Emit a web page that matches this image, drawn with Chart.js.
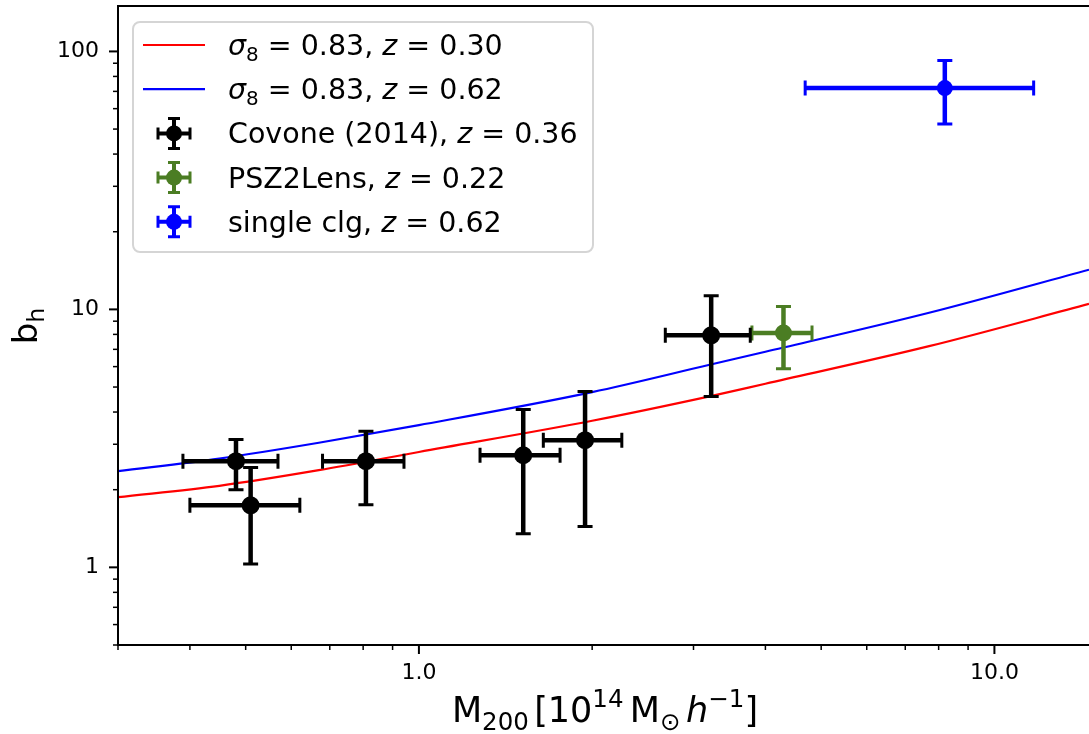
<!DOCTYPE html>
<html>
<head>
<meta charset="utf-8">
<title>Halo bias vs mass</title>
<script src="https://cdn.jsdelivr.net/npm/chart.js@4.4.0/dist/chart.umd.min.js"></script>
<style>
  html, body { margin: 0; padding: 0; background: #fff; overflow: hidden; }
  #wrap { position: relative; width: 1089px; height: 734px; }
</style>
</head>
<body>
<div id="wrap"><canvas id="biasChart" width="1089" height="734"></canvas></div>
<script>
"use strict";

/*----------------------------------------*/
/*  data
/*----------------------------------------*/
// model curves, sigma8 = 0.83
var modelMass = [0.3, 0.45, 0.67, 1.0, 2.0, 3.2, 4.0, 7.7, 14.6];
var biasZ030  = [1.87, 2.07, 2.38, 2.80, 3.70, 4.60, 5.15, 7.20, 10.5];
var biasZ062  = [2.36, 2.64, 3.04, 3.56, 4.78, 6.10, 6.85, 9.70, 14.25];

// Covone (2014), z = 0.36
var covMass   = [0.481, 0.51, 0.809, 1.518, 1.944, 3.22];
var covMassLo = [0.389, 0.40, 0.68, 1.277, 1.645, 2.68];
var covMassHi = [0.569, 0.621, 0.942, 1.759, 2.252, 3.765];
var covBias   = [2.58, 1.74, 2.58, 2.72, 3.11, 7.93];
var covBiasLo = [2.00, 1.03, 1.75, 1.35, 1.44, 4.60];
var covBiasHi = [3.13, 2.44, 3.37, 4.09, 4.80, 11.3];

// PSZ2Lens, z = 0.22
var pszMass = [4.30], pszMassLo = [3.79], pszMassHi = [4.82];
var pszBias = [8.10], pszBiasLo = [5.89], pszBiasHi = [10.27];

// single clg, z = 0.62
var clgMass = [8.20], clgMassLo = [4.69], clgMassHi = [11.7];
var clgBias = [72.1], clgBiasLo = [52.3], clgBiasHi = [92.3];

// axis ranges and labelled ticks
var xRange = [0.3, 14.6];
var yRange = [0.5, 150];
var xTickLabels = { 1: '1.0', 10: '10.0' };
var yTickLabels = { 1: '1', 10: '10', 100: '100' };

var FONT = '"DejaVu Sans", "Liberation Sans", sans-serif';
var RED = '#ff0000', BLUE = '#0000ff', BLACK = '#000000', GREEN = '#4b7d23';

function pts(xs, ys) {
	return xs.map(function (v, i) { return { x: v, y: ys[i] }; });
}

/*----------------------------------------*/
/*  rich text (sub / sup / italic)
/*----------------------------------------*/
function partFont(p, size) {
	var s = (p.sub || p.sup) ? size * 0.7 : size;
	return (p.it ? 'italic ' : '') + s.toFixed(1) + 'px ' + FONT;
}
function richWidth(ctx, parts, size) {
	var w = 0;
	parts.forEach(function (p) {
		if (p.sp) { w += p.sp * size; return; }
		ctx.font = partFont(p, size);
		w += ctx.measureText(p.t).width;
	});
	return w;
}
function drawRich(ctx, parts, x, y, size, align) {
	var w = richWidth(ctx, parts, size);
	var cx = align === 'center' ? x - w / 2 : x;
	ctx.textBaseline = 'alphabetic';
	ctx.textAlign = 'left';
	parts.forEach(function (p) {
		if (p.sp) { cx += p.sp * size; return; }
		ctx.font = partFont(p, size);
		var dy = p.sub ? size * 0.22 : (p.sup ? -size * 0.42 : 0);
		ctx.fillText(p.t, cx, y + dy);
		cx += ctx.measureText(p.t).width;
	});
}

/*----------------------------------------*/
/*  error bars, drawn just under each marker set
/*----------------------------------------*/
var errorBarPlugin = {
	id: 'errorBars',
	beforeDatasetDraw: function (chart, args) {
		var ds = chart.data.datasets[args.index];
		if (!ds.err) return;
		var ctx = chart.ctx, xs = chart.scales.x, ys = chart.scales.y;
		var cap = 7.5;
		ctx.save();
		ctx.strokeStyle = ds.backgroundColor;
		ds.data.forEach(function (p, i) {
			var px = xs.getPixelForValue(p.x), py = ys.getPixelForValue(p.y);
			var x0 = xs.getPixelForValue(ds.err.xLo[i]), x1 = xs.getPixelForValue(ds.err.xHi[i]);
			var y0 = ys.getPixelForValue(ds.err.yLo[i]), y1 = ys.getPixelForValue(ds.err.yHi[i]);
			ctx.lineWidth = 4.5;
			ctx.beginPath();
			ctx.moveTo(x0, py); ctx.lineTo(x1, py);
			ctx.moveTo(px, y0); ctx.lineTo(px, y1);
			ctx.stroke();
			ctx.lineWidth = 3;
			ctx.beginPath();
			ctx.moveTo(x0, py - cap); ctx.lineTo(x0, py + cap);
			ctx.moveTo(x1, py - cap); ctx.lineTo(x1, py + cap);
			ctx.moveTo(px - cap, y0); ctx.lineTo(px + cap, y0);
			ctx.moveTo(px - cap, y1); ctx.lineTo(px + cap, y1);
			ctx.stroke();
		});
		ctx.restore();
	}
};

/*----------------------------------------*/
/*  frame, tick marks, axis titles, legend
/*----------------------------------------*/
var legendRows = [
	{ kind: 'line', color: RED,  parts: [{ t: 'σ', it: 1 }, { t: '8', sub: 1 }, { t: ' = 0.83, ' }, { t: 'z', it: 1 }, { t: ' = 0.30' }] },
	{ kind: 'line', color: BLUE, parts: [{ t: 'σ', it: 1 }, { t: '8', sub: 1 }, { t: ' = 0.83, ' }, { t: 'z', it: 1 }, { t: ' = 0.62' }] },
	{ kind: 'err', color: BLACK, parts: [{ t: 'Covone (2014), ' }, { t: 'z', it: 1 }, { t: ' = 0.36' }] },
	{ kind: 'err', color: GREEN, parts: [{ t: 'PSZ2Lens, ' }, { t: 'z', it: 1 }, { t: ' = 0.22' }] },
	{ kind: 'err', color: BLUE,  parts: [{ t: 'single clg, ' }, { t: 'z', it: 1 }, { t: ' = 0.62' }] }
];

function roundRect(ctx, x, y, w, h, r) {
	ctx.beginPath();
	ctx.moveTo(x + r, y);
	ctx.arcTo(x + w, y, x + w, y + h, r);
	ctx.arcTo(x + w, y + h, x, y + h, r);
	ctx.arcTo(x, y + h, x, y, r);
	ctx.arcTo(x, y, x + w, y, r);
	ctx.closePath();
}

var decorPlugin = {
	id: 'decor',
	afterDatasetsDraw: function (chart) {
		var ctx = chart.ctx, a = chart.chartArea;
		var xs = chart.scales.x, ys = chart.scales.y;
		ctx.save();

		// spines
		ctx.strokeStyle = '#000';
		ctx.lineWidth = 2;
		ctx.beginPath();
		ctx.moveTo(a.right + 2, a.top); ctx.lineTo(a.left, a.top);
		ctx.lineTo(a.left, a.bottom); ctx.lineTo(a.right + 2, a.bottom);
		ctx.stroke();

		// log tick marks (major at decades, minor between)
		function logTicks(lo, hi, fn) {
			for (var e = Math.floor(Math.log10(lo)); e <= Math.ceil(Math.log10(hi)); e++) {
				for (var m = 1; m <= 9; m++) {
					var v = m * Math.pow(10, e);
					if (v >= lo * 0.999 && v <= hi * 1.001) fn(v, m === 1);
				}
			}
		}
		logTicks(xRange[0], xRange[1], function (v, major) {
			var px = xs.getPixelForValue(v);
			ctx.lineWidth = major ? 2 : 1.5;
			ctx.beginPath(); ctx.moveTo(px, a.bottom); ctx.lineTo(px, a.bottom + (major ? 9 : 5)); ctx.stroke();
		});
		logTicks(yRange[0], yRange[1], function (v, major) {
			var py = ys.getPixelForValue(v);
			ctx.lineWidth = major ? 2 : 1.5;
			ctx.beginPath(); ctx.moveTo(a.left, py); ctx.lineTo(a.left - (major ? 9 : 5), py); ctx.stroke();
		});

		// axis titles
		ctx.fillStyle = '#000';
		drawRich(ctx, [
			{ t: 'M' }, { t: '200', sub: 1 }, { sp: 0.15 }, { t: '[10' }, { t: '14', sup: 1 }, { sp: 0.18 },
			{ t: 'M' }, { t: '⊙', sub: 1 }, { sp: 0.16 }, { t: 'h', it: 1 }, { t: '−1', sup: 1 }, { t: ']' }
		], 605, 722, 35, 'center');

		ctx.save();
		ctx.translate(37, 326);
		ctx.rotate(-Math.PI / 2);
		drawRich(ctx, [{ t: 'b' }, { t: 'h', sub: 1 }], 0, 0, 34, 'center');
		ctx.restore();

		// legend
		var lx = 133, ly = 22, lw = 460, lh = 230;
		roundRect(ctx, lx, ly, lw, lh, 7);
		ctx.fillStyle = 'rgba(255,255,255,0.85)';
		ctx.fill();
		ctx.strokeStyle = '#d5d5d5';
		ctx.lineWidth = 2;
		ctx.stroke();

		legendRows.forEach(function (row, i) {
			var cy = 45 + i * 44.2;
			ctx.strokeStyle = row.color;
			ctx.fillStyle = row.color;
			if (row.kind === 'line') {
				ctx.lineWidth = 2.2;
				ctx.beginPath(); ctx.moveTo(143, cy); ctx.lineTo(205, cy); ctx.stroke();
			} else {
				var mx = 174;
				ctx.lineWidth = 4;
				ctx.beginPath();
				ctx.moveTo(mx - 16, cy); ctx.lineTo(mx + 16, cy);
				ctx.moveTo(mx, cy - 15); ctx.lineTo(mx, cy + 15);
				ctx.stroke();
				ctx.lineWidth = 3;
				ctx.beginPath();
				ctx.moveTo(mx - 16, cy - 6); ctx.lineTo(mx - 16, cy + 6);
				ctx.moveTo(mx + 16, cy - 6); ctx.lineTo(mx + 16, cy + 6);
				ctx.moveTo(mx - 6, cy - 15); ctx.lineTo(mx + 6, cy - 15);
				ctx.moveTo(mx - 6, cy + 15); ctx.lineTo(mx + 6, cy + 15);
				ctx.stroke();
				ctx.beginPath(); ctx.arc(mx, cy, 8, 0, Math.PI * 2); ctx.fill();
			}
			ctx.fillStyle = '#000';
			drawRich(ctx, row.parts, 228, cy + 10, 28.5, 'left');
		});

		ctx.restore();
	}
};

/*----------------------------------------*/
/*  chart
/*----------------------------------------*/
Chart.defaults.font.family = FONT;

var ctx = document.getElementById('biasChart');
var biasChart = new Chart(ctx, {
	type: 'scatter',
	data: {
		datasets: [{
			label: 'sigma8 = 0.83, z = 0.30',
			data: pts(modelMass, biasZ030),
			showLine: true,
			borderColor: RED,
			backgroundColor: RED,
			borderWidth: 2.2,
			pointRadius: 0,
			cubicInterpolationMode: 'monotone',
			order: 3
		}, {
			label: 'sigma8 = 0.83, z = 0.62',
			data: pts(modelMass, biasZ062),
			showLine: true,
			borderColor: BLUE,
			backgroundColor: BLUE,
			borderWidth: 2.2,
			pointRadius: 0,
			cubicInterpolationMode: 'monotone',
			order: 3
		}, {
			label: 'Covone (2014), z = 0.36',
			data: pts(covMass, covBias),
			err: { xLo: covMassLo, xHi: covMassHi, yLo: covBiasLo, yHi: covBiasHi },
			backgroundColor: BLACK,
			borderColor: BLACK,
			borderWidth: 0,
			pointRadius: 9,
			pointHoverRadius: 9,
			order: 1
		}, {
			label: 'PSZ2Lens, z = 0.22',
			data: pts(pszMass, pszBias),
			err: { xLo: pszMassLo, xHi: pszMassHi, yLo: pszBiasLo, yHi: pszBiasHi },
			backgroundColor: GREEN,
			borderColor: GREEN,
			borderWidth: 0,
			pointRadius: 8.5,
			pointHoverRadius: 8.5,
			order: 1
		}, {
			label: 'single clg, z = 0.62',
			data: pts(clgMass, clgBias),
			err: { xLo: clgMassLo, xHi: clgMassHi, yLo: clgBiasLo, yHi: clgBiasHi },
			backgroundColor: BLUE,
			borderColor: BLUE,
			borderWidth: 0,
			pointRadius: 8,
			pointHoverRadius: 8,
			order: 1
		}]
	},
	options: {
		responsive: false,
		animation: false,
		events: [],
		layout: { autoPadding: false, padding: { top: 6, left: 0, right: 0, bottom: 0 } },
		plugins: {
			legend: { display: false },
			tooltip: { enabled: false },
			title: { display: false }
		},
		scales: {
			x: {
				type: 'logarithmic',
				min: xRange[0],
				max: xRange[1],
				grid: { display: false },
				border: { display: false },
				ticks: {
					autoSkip: false,
					maxRotation: 0,
					minRotation: 0,
					padding: 7,
					color: '#000',
					font: { size: 22 },
					callback: function (v) { return xTickLabels[Math.round(v * 1000) / 1000] || ''; }
				},
				afterFit: function (s) { s.height = 89; s.paddingLeft = 0; s.paddingRight = 0; }
			},
			y: {
				type: 'logarithmic',
				min: yRange[0],
				max: yRange[1],
				grid: { display: false },
				border: { display: false },
				ticks: {
					autoSkip: false,
					padding: 11,
					color: '#000',
					font: { size: 22 },
					callback: function (v) { return yTickLabels[Math.round(v * 1000) / 1000] || ''; }
				},
				afterFit: function (s) { s.width = 118; s.paddingTop = 0; s.paddingBottom = 0; }
			}
		}
	},
	plugins: [errorBarPlugin, decorPlugin]
});
</script>
</body>
</html>
